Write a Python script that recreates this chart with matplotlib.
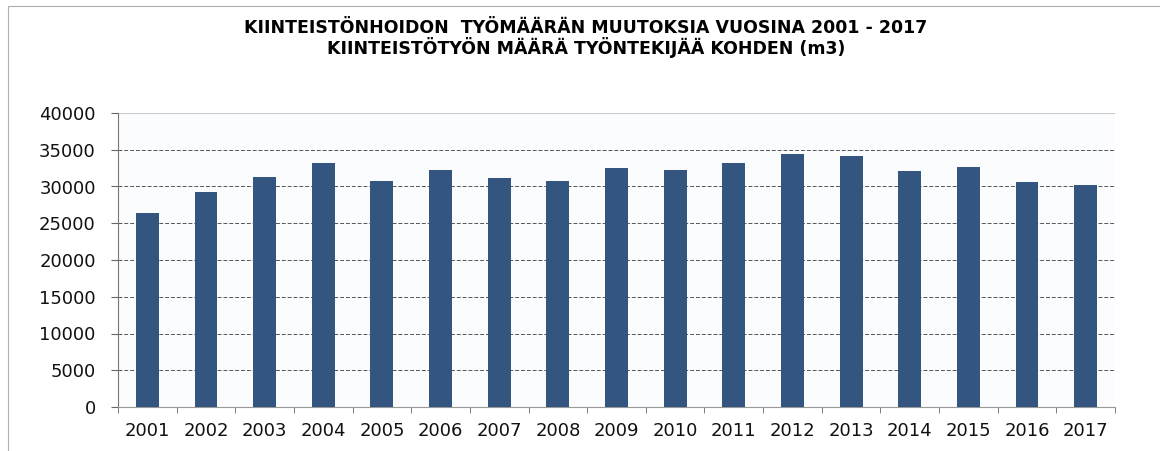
import matplotlib
matplotlib.use("Agg")
import matplotlib.pyplot as plt
from matplotlib.patches import Rectangle

years = ["2001", "2002", "2003", "2004", "2005", "2006", "2007", "2008", "2009",
         "2010", "2011", "2012", "2013", "2014", "2015", "2016", "2017"]
values = [26400, 29200, 31300, 33200, 30800, 32300, 31150, 30800, 32500,
          32300, 33150, 34400, 34200, 32100, 32650, 30600, 30200]
yticks = [0, 5000, 10000, 15000, 20000, 25000, 30000, 35000, 40000]
title_lines = ["KIINTEISTÖNHOIDON  TYÖMÄÄRÄN MUUTOKSIA VUOSINA 2001 - 2017",
               "KIINTEISTÖTYÖN MÄÄRÄ TYÖNTEKIJÄÄ KOHDEN (m3)"]

fig = plt.figure(figsize=(11.6, 4.51), dpi=100)
fig.patch.set_facecolor("white")
fig.patches.append(Rectangle((8/1160, -0.01), 1.02, 1 - 6/451 + 0.01, transform=fig.transFigure,
                             fill=False, edgecolor="#b0b0b0", linewidth=0.8))

ax = fig.add_axes([118/1160, 1 - 407/451, (1115 - 118)/1160, (407 - 113)/451])
x = list(range(len(years)))
ax.bar(x, values, width=0.39, color="#34557f", zorder=3)
ax.set_xlim(-0.5, len(years) - 0.5)
ax.set_ylim(0, 40000)
ax.set_yticks(yticks)
ax.set_yticklabels([str(v) for v in yticks], fontsize=13, family="DejaVu Sans", color="#111111")
ax.set_xticks(x)
ax.set_xticklabels(years, fontsize=13, family="DejaVu Sans", color="#111111")
ax.tick_params(axis="x", length=0, pad=11)
ax.tick_params(axis="y", length=5, color="#666666", pad=11)
ax.set_xticks([i - 0.5 for i in range(len(years) + 1)], minor=True)
ax.tick_params(axis="x", which="minor", length=4, color="#666666")
for v in yticks[1:-1]:
    ax.axhline(v, color="#555555", linewidth=0.7, linestyle=(0, (4, 2)), zorder=1)
ax.axhline(40000, color="#cccccc", linewidth=0.8, zorder=1)
for s in ["top", "right"]:
    ax.spines[s].set_visible(False)
ax.spines["left"].set_color("#777777")
ax.spines["bottom"].set_color("#999999")
ax.set_facecolor("#fbfcfd")

fig.text(0.505, 1 - 28/451, title_lines[0], ha="center", va="center", fontsize=12.5,
         fontweight="bold", family="DejaVu Sans")
fig.text(0.505, 1 - 47/451, title_lines[1], ha="center", va="center", fontsize=12.5,
         fontweight="bold", family="DejaVu Sans")

fig.savefig("out.png", dpi=100)
